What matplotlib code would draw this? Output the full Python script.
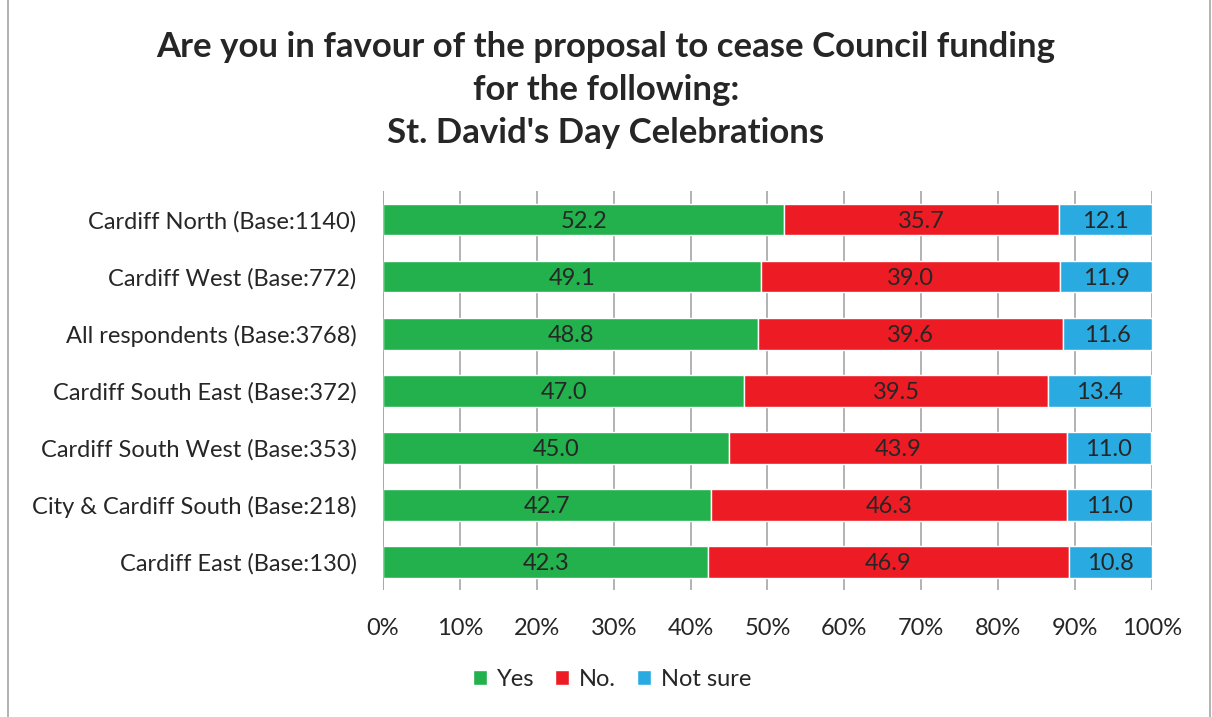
import matplotlib.pyplot as plt
from matplotlib.patches import Rectangle

plt.rcParams['font.family'] = ['Lato', 'DejaVu Sans']

categories = ["Cardiff North (Base:1140)", "Cardiff West (Base:772)",
              "All respondents (Base:3768)", "Cardiff South East (Base:372)",
              "Cardiff South West (Base:353)", "City & Cardiff South (Base:218)",
              "Cardiff East (Base:130)"]
yes = [52.2, 49.1, 48.8, 47.0, 45.0, 42.7, 42.3]
no = [35.7, 39.0, 39.6, 39.5, 43.9, 46.3, 46.9]
not_sure = [12.1, 11.9, 11.6, 13.4, 11.0, 11.0, 10.8]
series_names = ["Yes", "No.", "Not sure"]
colors = ["#22B14C", "#ED1C24", "#29ABE2"]
text_col = "#262626"

fig = plt.figure(figsize=(12.12, 7.17), dpi=100)
ax = fig.add_axes([0.316, 0.177, 0.6345, 0.5566])

ypos = list(range(len(categories)))[::-1]
left = [0.0] * len(categories)
for vals, name, col in zip([yes, no, not_sure], series_names, colors):
    bars = ax.barh(ypos, vals, left=left, height=0.56, color=col,
                   edgecolor="white", linewidth=1, label=name, zorder=3)
    for b, v in zip(bars, vals):
        ax.text(b.get_x() + b.get_width() / 2, b.get_y() + b.get_height() / 2 - 0.03,
                f"{v:.1f}", ha="center", va="center", fontsize=17,
                color=text_col, zorder=4)
    left = [l + v for l, v in zip(left, vals)]

ax.set_xlim(0, 100)
ax.set_ylim(-0.5, len(categories) - 0.5)
ax.set_xticks(range(0, 101, 10))
ax.set_xticklabels([f"{t}%" for t in range(0, 101, 10)], fontsize=17, color=text_col)
ax.set_yticks(ypos)
ax.set_yticklabels(categories, fontsize=17, color=text_col)
ax.tick_params(axis="y", length=0, pad=19)
ax.tick_params(axis="x", length=0, pad=20)
ax.xaxis.grid(True, color="#A6A6A6", linewidth=1.2, zorder=0)
for s in ax.spines.values():
    s.set_visible(False)
ax.axvline(0, color="#A6A6A6", linewidth=1.2, zorder=5)

fig.text(0.5, 0.957, "Are you in favour of the proposal to cease Council funding\n"
         "for the following:\nSt. David's Day Celebrations",
         ha="center", va="top", fontsize=25, fontweight="bold",
         color=text_col, linespacing=1.42)

leg = fig.legend(loc="center", bbox_to_anchor=(0.505, 0.052), ncol=3,
                 frameon=False, fontsize=17, handlelength=0.6, handleheight=0.6,
                 handletextpad=0.4, columnspacing=0.9)
for t in leg.get_texts():
    t.set_color(text_col)

fig.patches.append(Rectangle((0.007, -0.01), 0.991, 1.02, transform=fig.transFigure,
                             fill=False, edgecolor="#A6A6A6", linewidth=1.2))

fig.savefig("out.png", dpi=100)
